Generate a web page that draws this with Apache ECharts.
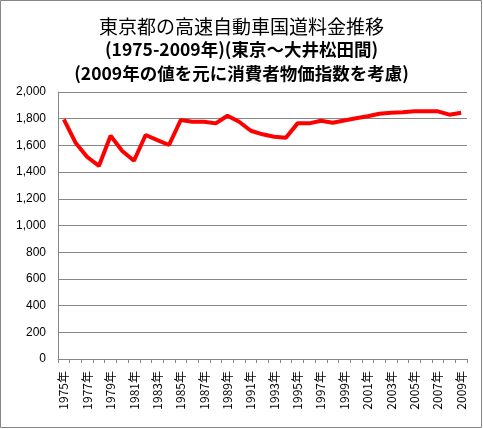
<!DOCTYPE html>
<html><head><meta charset="utf-8">
<script src="https://cdn.jsdelivr.net/npm/echarts@6/dist/echarts.min.js"></script>
<style>html,body{margin:0;padding:0;background:#fff}#c{width:483px;height:429px}</style>
</head><body><div id="c"></div>
<script>
var years = ['1975','1976','1977','1978','1979','1980','1981','1982','1983','1984','1985','1986','1987','1988','1989','1990','1991','1992','1993','1994','1995','1996','1997','1998','1999','2000','2001','2002','2003','2004','2005','2006','2007','2008','2009'];
var tolls = [1795,1620,1513,1446,1672,1558,1485,1678,1640,1603,1790,1777,1777,1765,1822,1777,1710,1683,1665,1658,1765,1765,1785,1770,1787,1803,1818,1837,1845,1848,1855,1855,1855,1830,1845];
var titleLines = ['東京都の高速自動車国道料金推移','(1975-2009年)(東京～大井松田間)','(2009年の値を元に消費者物価指数を考慮)'];
var yTicks = {min:0, max:2000, interval:200};

var chart = echarts.init(document.getElementById('c'));
var F = '"Noto Sans CJK JP", sans-serif';
chart.setOption({
  animation:false,
  backgroundColor:'#fff',
  graphic:[{type:'rect',shape:{x:0.5,y:0.5,width:481,height:427},style:{fill:'none',stroke:'#868686',lineWidth:1}}],
  title:[
    {text:titleLines[0],left:'center',top:12,textStyle:{fontFamily:F,fontSize:19,fontWeight:'normal',color:'#000'}},
    {text:titleLines[1],left:'center',top:36,textStyle:{fontFamily:F,fontSize:17.5,fontWeight:'bold',color:'#000'}},
    {text:titleLines[2],left:'center',top:60,textStyle:{fontFamily:F,fontSize:17.5,fontWeight:'bold',color:'#000'}}
  ],
  grid:{left:58,right:16,top:92,bottom:70,containLabel:false},
  xAxis:{
    type:'category',data:years.map(function(y){return y+'年';}),boundaryGap:true,
    axisLine:{lineStyle:{color:'#868686',width:1}},
    axisTick:{show:true,interval:0,length:4,lineStyle:{color:'#868686'}},
    axisLabel:{interval:1,rotate:90,fontFamily:F,fontSize:12,color:'#000',margin:12}
  },
  yAxis:{
    type:'value',min:yTicks.min,max:yTicks.max,interval:yTicks.interval,
    axisLine:{show:true,lineStyle:{color:'#868686',width:1}},
    axisTick:{show:false},
    splitLine:{lineStyle:{color:'#868686',width:1}},
    axisLabel:{fontFamily:'"Liberation Sans", Arial, sans-serif',fontSize:12,color:'#000',margin:12,
      formatter:function(v){return v.toLocaleString('en-US');}}
  },
  series:[{type:'line',data:tolls,showSymbol:false,symbol:'none',lineStyle:{color:'#ff0000',width:4},itemStyle:{color:'#ff0000'}}]
});
</script></body></html>
